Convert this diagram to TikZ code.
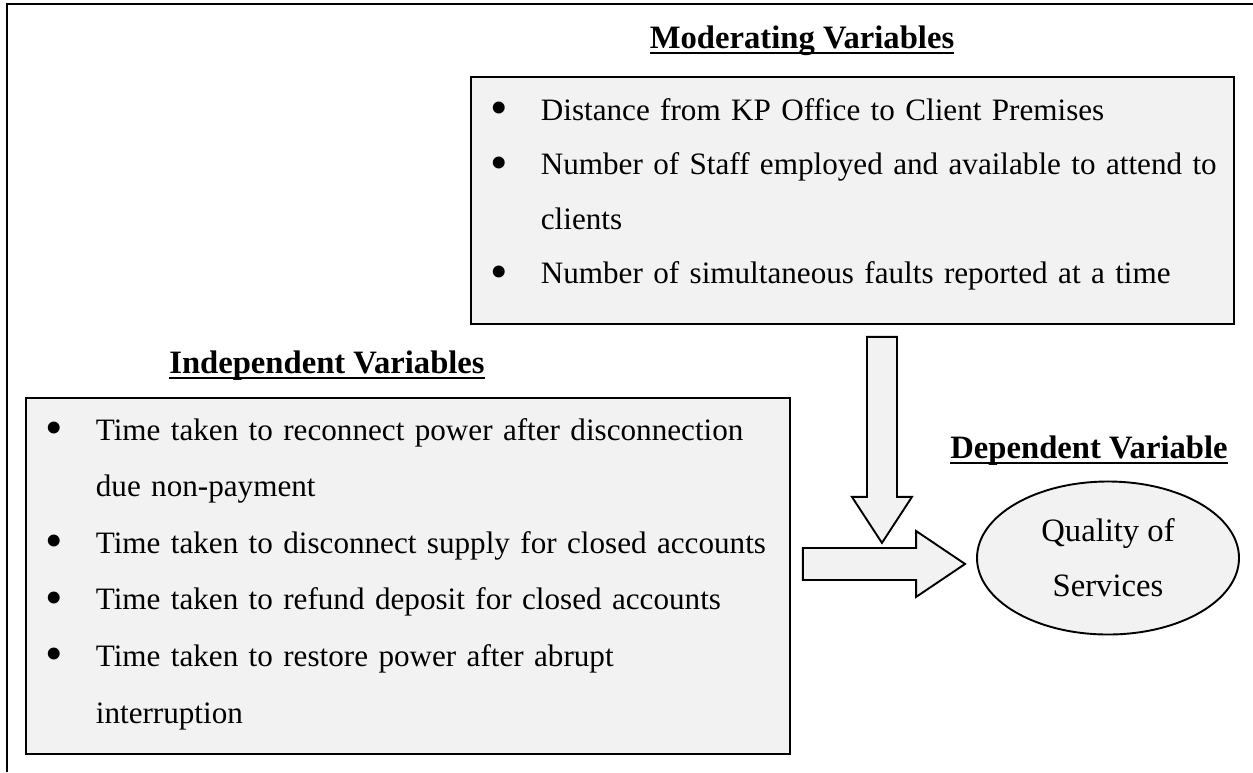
\documentclass[tikz,border=0pt]{standalone}
\usepackage{fontspec}
\setmainfont{Liberation Serif}
\usetikzlibrary{positioning,calc,shapes.geometric}

\newdimen\px \px=0.3676pt
\definecolor{boxgray}{HTML}{F2F2F2}

% one bullet line with hanging indent
\newcommand{\vitem}[1]{\noindent\hangindent=25.7pt\hangafter=1\makebox[25.7pt][l]{\hspace{10.3pt}\makebox[0pt]{\raisebox{-1.6pt}{\scalebox{1.6}{\textbullet}}}}#1\par}
% empty space below the last line of a box
\newcommand{\boxgap}[1]{\vskip #1\hrule height 0pt width 0pt}
% bold heading with a Word-like underline
\newcommand{\ttl}[1]{\setbox0\hbox{\bfseries #1}\rlap{\rule[-2.2pt]{\wd0}{0.75pt}}\box0}

\begin{document}
\begin{tikzpicture}[
			x=0.3676pt, y=-0.3676pt,
			varbox/.style={rectangle, draw, fill=boxgray, line width=0.7pt, anchor=north west, inner xsep=0pt, inner ysep=0pt, execute at begin node={\raggedright\hyphenpenalty=10000\relax}},
			title/.style={anchor=base, inner sep=0pt, font=\fontsize{12}{14}\selectfont},
			blockarrow/.style={draw, fill=boxgray, line width=0.7pt, line join=miter},
			outcome/.style={ellipse, draw, fill=boxgray, line width=0.7pt, minimum width=262\px, minimum height=153\px, align=center, font=\fontsize{12}{20.2}\selectfont}
			]
			\useasboundingbox (0,0) rectangle (1253,772);
			
			% Frame
			\draw[line width=0.9pt] (7,772) -- (7,4) -- (1253,4);
			
			% Moderating
			\node[title] (modtitle) at (802,48) {\ttl{Moderating Variables}};
			\node[varbox, font=\fontsize{11.45}{20.0}\selectfont, text width=763\px, minimum height=247\px] (modbox) at (470,76) {%
				\vitem{Distance from KP Office to Client Premises}
				\vitem{Number of Staff employed and available to attend to\newline clients}
				\vitem{Number of simultaneous faults reported at a time}\boxgap{4.4pt}};
			
			% Independent
			\node[title] (indtitle) at (327,373) {\ttl{Independent Variables}};
			\node[varbox, font=\fontsize{11.45}{20.8}\selectfont, text width=764\px, minimum height=356\px] (indbox) at (25,397) {%
				\vitem{Time taken to reconnect power after disconnection\newline due non-payment}
				\vitem{Time taken to disconnect supply for closed accounts}
				\vitem{Time taken to refund deposit for closed accounts}
				\vitem{Time taken to restore power after abrupt\newline interruption}\boxgap{1.5pt}};
			
			% Dependent
			\node[title] (deptitle) at (1089,458) {\ttl{Dependent Variable}};
			\node[outcome] (quality) at (1108,558) {Quality of\\Services};
			
			% Arrows
			\coordinate (dtop) at ($(modbox.south)+(29.5,12)$);
			\coordinate (dtip) at ($(dtop)+(0,206)$);
			\draw[blockarrow] ($(dtop)+(-15,0)$) -- ($(dtip)+(-15,-46)$) -- ($(dtip)+(-30,-46)$) -- (dtip)
				-- ($(dtip)+(30,-46)$) -- ($(dtip)+(15,-46)$) -- ($(dtop)+(15,0)$) -- cycle;
			
			\coordinate (rtail) at ($(indbox.east)+(12,-12)$);
			\coordinate (rtip) at ($(rtail -| quality.west)+(-11,0)$);
			\draw[blockarrow] ($(rtail)+(0,-16)$) -- ($(rtip)+(-49,-16)$) -- ($(rtip)+(-49,-33)$) -- (rtip)
				-- ($(rtip)+(-49,33)$) -- ($(rtip)+(-49,16)$) -- ($(rtail)+(0,16)$) -- cycle;
			
		\end{tikzpicture}
\end{document}
